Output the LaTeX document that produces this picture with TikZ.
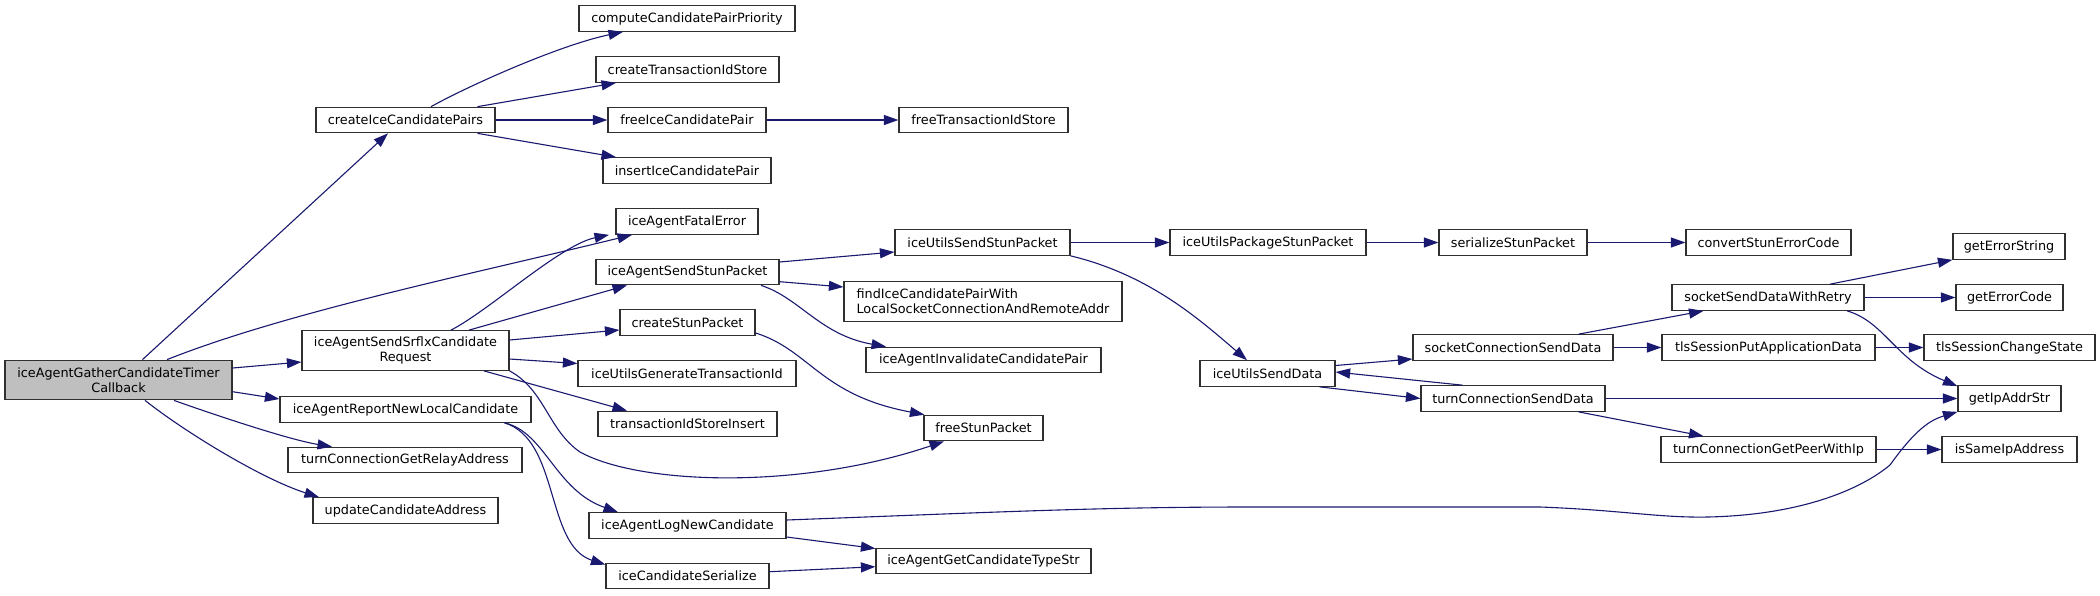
\documentclass[tikz,border=0pt]{standalone}
\usepackage{fontspec}
\setmainfont{DejaVu Sans}
\usetikzlibrary{arrows.meta}
\definecolor{edgec}{HTML}{191970}
\definecolor{boxc}{HTML}{303030}
\definecolor{mainfill}{HTML}{BFBFBF}
\begin{document}
\begin{tikzpicture}[x=1pt,y=-1pt,
  box/.style={draw=boxc, fill=white, line width=1.2pt, inner sep=0pt, minimum height=25.5pt,
    font=\fontsize{12.8}{15}\selectfont, anchor=center},
  twoline/.style={minimum height=39.6pt, align=center},
  edge/.style={draw=edgec, line width=1.1pt, -{Triangle[length=14.5pt,width=10pt]}}]
\useasboundingbox (0,0) rectangle (2100,595);
\fill[white] (0,0) rectangle (2100,595);
% column 1
\node[box, twoline, fill=mainfill, minimum width=227pt] (main) at (118.5,380) {iceAgentGatherCandidateTimer\\Callback};
% column 2
\node[box, minimum width=179pt] (cICP) at (405.5,120) {createIceCandidatePairs};
\node[box, twoline, minimum width=207pt] (iASSCR) at (405.5,350.5) {iceAgentSendSrflxCandidate\\Request};
\node[box, minimum width=251pt] (iARNLC) at (405.5,409.5) {iceAgentReportNewLocalCandidate};
\node[box, minimum width=234pt] (tCGRA) at (405,460) {turnConnectionGetRelayAddress};
\node[box, minimum width=185pt] (uCA) at (405.5,510.5) {updateCandidateAddress};
% column 3
\node[box, minimum width=216pt] (cCPP) at (687,18.5) {computeCandidatePairPriority};
\node[box, minimum width=183pt] (cTIS) at (687.5,69.5) {createTransactionIdStore};
\node[box, minimum width=158pt] (fICP) at (687,120) {freeIceCandidatePair};
\node[box, minimum width=168pt] (iICP) at (687,170.5) {insertIceCandidatePair};
\node[box, minimum width=142pt] (iAFE) at (687,221.5) {iceAgentFatalError};
\node[box, minimum width=183pt] (iASSP) at (687.5,272) {iceAgentSendStunPacket};
\node[box, minimum width=135pt] (cSP) at (687.5,322.5) {createStunPacket};
\node[box, minimum width=218pt] (iUGTI) at (687,373.5) {iceUtilsGenerateTransactionId};
\node[box, minimum width=179pt] (tISI) at (687.5,424) {transactionIdStoreInsert};
\node[box, minimum width=197pt] (iALNC) at (687.5,525.5) {iceAgentLogNewCandidate};
\node[box, minimum width=163pt] (iCS) at (687.5,576) {iceCandidateSerialize};
% column 4
\node[box, minimum width=169pt] (fTIS) at (983.5,120) {freeTransactionIdStore};
\node[box, minimum width=175pt] (iUSSP) at (982.5,242.5) {iceUtilsSendStunPacket};
\node[box, twoline, align=left, minimum width=278pt] (find) at (983,301.5) {findIceCandidatePairWith\\LocalSocketConnectionAndRemoteAddr};
\node[box, minimum width=235pt] (iAICP) at (983.5,360) {iceAgentInvalidateCandidatePair};
\node[box, minimum width=119pt] (fSP) at (983.5,428) {freeStunPacket};
\node[box, minimum width=215pt] (iAGCTS) at (983.5,561) {iceAgentGetCandidateTypeStr};
% column 5
\node[box, minimum width=196pt] (iUPSP) at (1268,242.5) {iceUtilsPackageStunPacket};
\node[box, minimum width=135pt] (iUSD) at (1267.5,373.5) {iceUtilsSendData};
% column 6
\node[box, minimum width=148pt] (sSP) at (1513,242.5) {serializeStunPacket};
\node[box, minimum width=200pt] (sCSD) at (1513,347.5) {socketConnectionSendData};
\node[box, minimum width=184pt] (tCSD) at (1513,398.5) {turnConnectionSendData};
% column 7
\node[box, minimum width=165pt] (cSEC) at (1768.5,242.5) {convertStunErrorCode};
\node[box, minimum width=192pt] (sSDWR) at (1768,297.5) {socketSendDataWithRetry};
\node[box, minimum width=213pt] (tSPAD) at (1768.5,347.5) {tlsSessionPutApplicationData};
\node[box, minimum width=215pt] (tCGPWI) at (1768.5,449.5) {turnConnectionGetPeerWithIp};
% column 8
\node[box, minimum width=112pt] (gES) at (2009,246.5) {getErrorString};
\node[box, minimum width=107pt] (gEC) at (2009.5,297.5) {getErrorCode};
\node[box, minimum width=171pt] (tSCS) at (2009.5,347.5) {tlsSessionChangeState};
\node[box, minimum width=103pt] (gIAS) at (2009.5,398.5) {getIpAddrStr};
\node[box, minimum width=135pt] (iSIA) at (2009.5,449.5) {isSameIpAddress};
% edges from main
\draw[edge] ([xshift=24pt]main.north) -- ([xshift=-17.5pt]cICP.south);
\draw[edge] ([xshift=48.5pt]main.north) .. controls (287,312) and (472,274) .. ([xshift=-55pt]iAFE.south);
\draw[edge] ([yshift=12pt]main.east) -- ([yshift=-11.5pt]iASSCR.west);
\draw[edge] ([yshift=-11.7pt]main.east) -- ([yshift=10.5pt]iARNLC.west);
\draw[edge] ([xshift=55.5pt]main.south) .. controls (215,415) and (290,440) .. ([xshift=-73pt]tCGRA.north);
\draw[edge] ([xshift=26.5pt]main.south) .. controls (185,432) and (262,479) .. ([xshift=-86.5pt]uCA.north);
% createIceCandidatePairs
\draw[edge] ([xshift=25.5pt]cICP.north) .. controls (470,85) and (560,45) .. ([xshift=-64pt]cCPP.south);
\draw[edge] ([xshift=72pt]cICP.north) -- ([xshift=-71.5pt]cTIS.south);
\draw[edge] (cICP) -- (fICP);
\draw[edge] ([xshift=72pt]cICP.south) -- ([xshift=-71pt]iICP.north);
\draw[edge] (fICP) -- (fTIS);
% iceAgentSendSrflxCandidateRequest
\draw[edge] ([xshift=45.5pt]iASSCR.north) .. controls (490,310) and (560,245) .. ([xshift=-78pt]iAFE.south);
\draw[edge] ([xshift=63.5pt]iASSCR.north) -- ([xshift=-60.5pt]iASSP.south);
\draw[edge] ([yshift=10.5pt]iASSCR.east) -- ([yshift=-7.5pt]cSP.west);
\draw[edge] ([yshift=-8.5pt]iASSCR.east) -- ([yshift=10pt]iUGTI.west);
\draw[edge] ([xshift=78.5pt]iASSCR.south) -- ([xshift=-60.5pt]tISI.north);
\draw[edge] (iASSCR.south east) .. controls (545,390) and (548,430) .. (580,452)
  .. controls (640,485) and (800,490) .. ([xshift=-39.5pt]fSP.south);
% iceAgentSendStunPacket
\draw[edge] ([yshift=10pt]iASSP.east) -- ([yshift=-9.5pt]iUSSP.west);
\draw[edge] ([yshift=-9.7pt]iASSP.east) -- ([yshift=14.5pt]find.west);
\draw[edge] ([xshift=73.5pt]iASSP.south) .. controls (800,298) and (820,335) .. ([xshift=-97.5pt]iAICP.north);
% createStunPacket
\draw[edge] ([yshift=-10.5pt]cSP.east) .. controls (810,350) and (820,395) .. ([xshift=1pt]fSP.north west);
% iceUtilsSendStunPacket
\draw[edge] (iUSSP) -- (iUPSP);
\draw[edge] (iUSSP.south east) .. controls (1150,275) and (1200,320) .. ([xshift=-20.5pt]iUSD.north);
\draw[edge] (iUPSP) -- (sSP);
\draw[edge] (sSP) -- (cSEC);
% iceUtilsSendData
\draw[edge] ([yshift=8pt]iUSD.east) -- ([yshift=-11.5pt]sCSD.west);
\draw[edge] ([xshift=52pt]iUSD.south) -- (tCSD.west);
\draw[edge] ([xshift=-50.5pt]tCSD.north) -- ([yshift=1.5pt]iUSD.east);
% socketConnectionSendData
\draw[edge] ([xshift=65.5pt]sCSD.north) -- ([xshift=-64.5pt]sSDWR.south);
\draw[edge] (sCSD) -- (tSPAD);
% turnConnectionSendData
\draw[edge] (tCSD) -- (gIAS);
\draw[edge] ([xshift=65.5pt]tCSD.south) -- ([xshift=-65pt]tCGPWI.north);
% socketSendDataWithRetry
\draw[edge] ([xshift=62pt]sSDWR.north) -- (gES.south west);
\draw[edge] (sSDWR) -- (gEC);
\draw[edge] ([xshift=79pt]sSDWR.south) .. controls (1885,322) and (1895,360) .. ([yshift=-1pt]gIAS.north west);
\draw[edge] (tSPAD) -- (tSCS);
\draw[edge] (tCGPWI) -- (iSIA);
% iceAgentReportNewLocalCandidate
\draw[edge] ([xshift=99pt]iARNLC.south) .. controls (545,432) and (555,490) .. ([xshift=-69.5pt]iALNC.north);
\draw[edge] ([xshift=99pt]iARNLC.south) .. controls (560,440) and (545,545) .. ([yshift=-2pt]iCS.north west);
% iceAgentLogNewCandidate
\draw[edge] ([yshift=5.5pt]iALNC.east) .. controls (1000,512) and (1100,507) .. (1250,507) -- (1540,507)
  .. controls (1620,510) and (1660,518) .. (1708,517)
  .. controls (1800,515) and (1860,490) .. (1890,465)
  .. controls (1915,430) and (1930,420) .. (gIAS.south west);
\draw[edge] ([yshift=-11.5pt]iALNC.east) -- ([yshift=12.5pt]iAGCTS.west);
% iceCandidateSerialize
\draw[edge] ([yshift=4.3pt]iCS.east) -- ([yshift=-5.7pt]iAGCTS.west);
\end{tikzpicture}
\end{document}
